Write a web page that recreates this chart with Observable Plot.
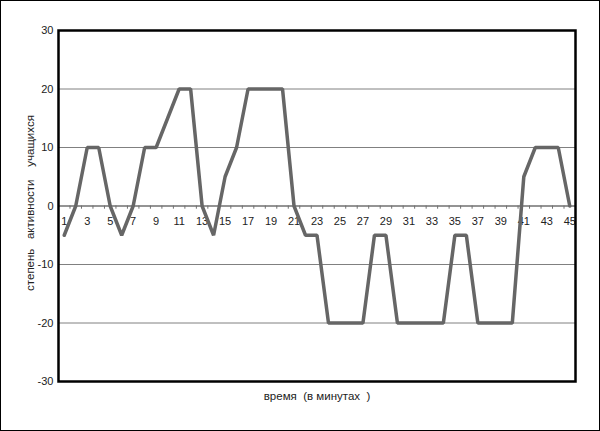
<!DOCTYPE html>
<html>
<head>
<meta charset="utf-8">
<script src="https://cdn.jsdelivr.net/npm/d3@7"></script>
<script src="https://cdn.jsdelivr.net/npm/@observablehq/plot@0.6"></script>
<style>
  html, body { margin: 0; padding: 0; background: #fff; }
  #chart svg { display: block; outline: 1px solid #000; outline-offset: -1px; }
</style>
</head>
<body>
<div id="chart"></div>
<script>
// Minutes (categories) and activity level values
const minutes = d3.range(1, 46);
const activity = [
  -5, 0, 10, 10, 0, -5, 0, 10, 10, 15,
  20, 20, 0, -5, 5, 10, 20, 20, 20, 20,
  0, -5, -5, -20, -20, -20, -20, -5, -5, -20,
  -20, -20, -20, -20, -5, -5, -20, -20, -20, -20,
  5, 10, 10, 10, 0
];
const yTicks = [-30, -20, -10, 0, 10, 20, 30];
const gridValues = [-20, -10, 10, 20];
const xLabels = minutes.filter(m => m % 2 === 1);
const xBoundaries = [minutes[0] - 0.5, ...minutes.map(m => m + 0.5)];
const yTitle = "степень\u00a0\u00a0 активности\u00a0\u00a0\u00a0 учащихся";
const xTitle = "время\u00a0 (в минутах\u00a0 )";

const data = minutes.map((m, i) => ({minute: m, value: activity[i]}));

const chart = Plot.plot({
  width: 600,
  height: 431,
  marginLeft: 58,
  marginRight: 25,
  marginTop: 30,
  marginBottom: 50,
  style: {fontFamily: "Liberation Sans, Arial, sans-serif", fontSize: "11px", background: "#fff"},
  x: {domain: [minutes[0] - 0.5, minutes[minutes.length - 1] + 0.5], axis: null},
  y: {domain: [-30, 30], axis: null},
  marks: [
    Plot.ruleY(gridValues, {stroke: "#808080", strokeWidth: 1}),
    Plot.ruleY([0], {stroke: "#707070", strokeWidth: 1.5}),
    Plot.ruleX(xBoundaries.slice(1, -1), {y1: 0, y2: -0.55, stroke: "#707070", strokeWidth: 1}),
    Plot.text(xLabels, {x: d => d, y: 0, dy: 15, text: d => String(d), fill: "#222", fontSize: 11}),
    Plot.text(yTicks, {y: d => d, frameAnchor: "left", dx: -5, textAnchor: "end", text: d => String(d), fill: "#222", fontSize: 11}),
    Plot.line(data, {x: "minute", y: "value", stroke: "#666666", strokeWidth: 3.5, strokeLinejoin: "miter"}),
    Plot.frame({stroke: "#000", strokeWidth: 2.5}),
    Plot.text([yTitle], {frameAnchor: "left", dx: -28, dy: -3, rotate: -90, textAnchor: "middle", text: d => d, fill: "#222", fontSize: 11.5}),
    Plot.text([xTitle], {frameAnchor: "bottom", dy: 18, textAnchor: "middle", text: d => d, fill: "#222", fontSize: 11.5})
  ]
});
document.getElementById("chart").appendChild(chart);
</script>
</body>
</html>
